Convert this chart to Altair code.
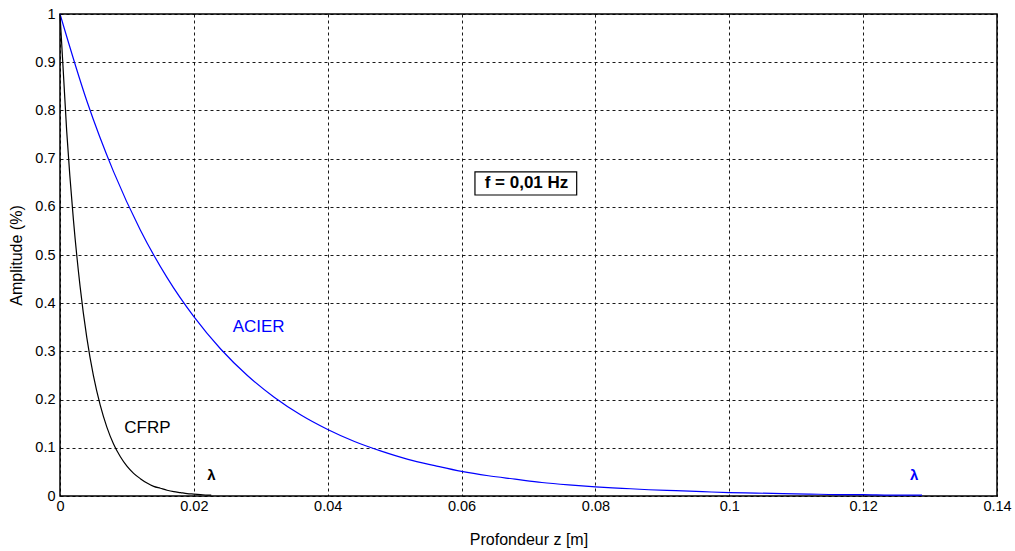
import altair as alt
import pandas as pd

# ACIER (steel) curve
acier_z = [0, 0.004, 0.008, 0.012, 0.016, 0.020, 0.024, 0.028, 0.032, 0.036,
           0.040, 0.044, 0.048, 0.052, 0.056, 0.060, 0.064, 0.068, 0.072, 0.076,
           0.080, 0.084, 0.088, 0.092, 0.096, 0.100, 0.104, 0.108, 0.112, 0.116,
           0.120, 0.124, 0.128, 0.1288]
acier_a = [1.0, 0.820, 0.673, 0.552, 0.453, 0.372, 0.305, 0.250, 0.205, 0.168,
           0.138, 0.113, 0.093, 0.076, 0.063, 0.051, 0.042, 0.035, 0.028, 0.023,
           0.019, 0.016, 0.013, 0.011, 0.009, 0.007, 0.006, 0.005, 0.004, 0.003,
           0.003, 0.002, 0.002, 0.002]

# CFRP curve
cfrp_z = [0, 0.001, 0.002, 0.003, 0.004, 0.005, 0.006, 0.007, 0.008, 0.009,
          0.010, 0.011, 0.012, 0.013, 0.014, 0.015, 0.016, 0.017, 0.018, 0.019,
          0.020, 0.021, 0.022, 0.0226]
cfrp_a = [1.0, 0.757, 0.574, 0.435, 0.329, 0.249, 0.189, 0.143, 0.108, 0.082,
          0.062, 0.047, 0.036, 0.027, 0.020, 0.016, 0.012, 0.009, 0.007, 0.005,
          0.004, 0.003, 0.002, 0.002]

x_ticks = [0, 0.02, 0.04, 0.06, 0.08, 0.1, 0.12, 0.14]
y_ticks = [0, 0.1, 0.2, 0.3, 0.4, 0.5, 0.6, 0.7, 0.8, 0.9, 1]

labels_text = ["ACIER", "CFRP"]
labels_z = [0.0258, 0.0096]
labels_a = [0.351, 0.142]
labels_color = ["#0000ff", "#000000"]

lambda_text = ["λ", "λ"]
lambda_z = [0.0220, 0.1270]
lambda_a = [0.044, 0.044]
lambda_color = ["#000000", "#0000ff"]

note_text = "f = 0,01 Hz"
note_z = 0.0697
note_a = 0.650
note_box = (0.0620, 0.0772, 0.6245, 0.6725)

FONT = "Liberation Sans"

curves = pd.DataFrame(
    [{"z": z, "a": a, "mat": "ACIER"} for z, a in zip(acier_z, acier_a)]
    + [{"z": z, "a": a, "mat": "CFRP"} for z, a in zip(cfrp_z, cfrp_a)]
)
labels = pd.DataFrame({"t": labels_text, "z": labels_z, "a": labels_a,
                       "c": labels_color})
lambdas = pd.DataFrame({"t": lambda_text, "z": lambda_z, "a": lambda_a,
                        "c": lambda_color})

xs = alt.Scale(domain=[0, 0.14], nice=False, zero=False)
ys = alt.Scale(domain=[0, 1], nice=False)

xaxis = alt.Axis(values=x_ticks, format="~g", title="Profondeur z [m]",
                 grid=True, gridColor="#000000", gridDash=[3, 3], gridOpacity=0.9,
                 ticks=False, domain=False, labelFont=FONT, labelFontSize=14.5,
                 labelColor="#000000", labelPadding=3, labelFlush=False,
                 labelOverlap=False, titleFont=FONT,
                 titleFontSize=16, titleFontWeight="normal", titleColor="#000000",
                 titlePadding=19)
yaxis = alt.Axis(values=y_ticks, format="~g", title="Amplitude (%)",
                 grid=True, gridColor="#000000", gridDash=[3, 3], gridOpacity=0.9,
                 ticks=False, domain=False, labelFont=FONT, labelFontSize=14.5,
                 labelColor="#000000", labelPadding=5, labelFlush=False,
                 labelOverlap=False, titleFont=FONT,
                 titleFontSize=16, titleFontWeight="normal", titleColor="#000000",
                 titlePadding=10)

lines = alt.Chart(curves).mark_line(strokeWidth=1.2, interpolate="monotone").encode(
    x=alt.X("z:Q", scale=xs, axis=xaxis),
    y=alt.Y("a:Q", scale=ys, axis=yaxis),
    color=alt.Color("mat:N", scale=alt.Scale(domain=["ACIER", "CFRP"],
                                             range=["#0000ff", "#000000"]),
                    legend=None),
)

txt = alt.Chart(labels).mark_text(font=FONT, fontSize=17, align="left",
                                  baseline="middle").encode(
    x=alt.X("z:Q", scale=xs),
    y=alt.Y("a:Q", scale=ys),
    text="t:N",
    color=alt.Color("c:N", scale=None),
)

lam = alt.Chart(lambdas).mark_text(font=FONT, fontSize=15, fontWeight="bold",
                                   align="left", baseline="middle").encode(
    x=alt.X("z:Q", scale=xs),
    y=alt.Y("a:Q", scale=ys),
    text="t:N",
    color=alt.Color("c:N", scale=None),
)

box_df = pd.DataFrame({"x1": [note_box[0]], "x2": [note_box[1]],
                       "y1": [note_box[2]], "y2": [note_box[3]]})
box = alt.Chart(box_df).mark_rect(fill="#ffffff", stroke="#000000",
                                  strokeWidth=1.2).encode(
    x=alt.X("x1:Q", scale=xs), x2="x2:Q",
    y=alt.Y("y1:Q", scale=ys), y2="y2:Q",
)
note_df = pd.DataFrame({"t": [note_text], "z": [note_z], "a": [note_a]})
note = alt.Chart(note_df).mark_text(font=FONT, fontSize=17, fontWeight="bold",
                                    align="center", baseline="middle",
                                    color="#000000").encode(
    x=alt.X("z:Q", scale=xs), y=alt.Y("a:Q", scale=ys), text="t:N")

chart = alt.layer(lines, txt, lam, box, note).properties(
    width=937, height=482,
    autosize=alt.AutoSizeParams(type="none"),
    padding={"left": 60, "top": 14, "right": 18, "bottom": 55},
    background="#ffffff",
).configure_view(stroke="#000000", strokeWidth=1.5)

chart.save("out.html", embed_options={"renderer": "svg", "actions": False})
